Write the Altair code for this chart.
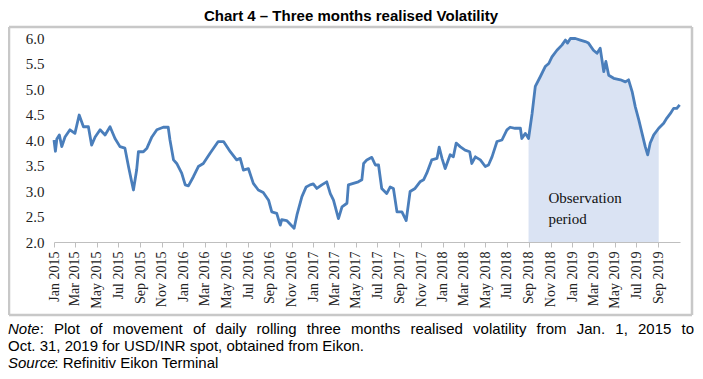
import altair as alt
import pandas as pd

dates = [
    "2015-01-01", "2015-01-05", "2015-01-09", "2015-01-16", "2015-01-23", "2015-02-01", "2015-02-15",
    "2015-03-01", "2015-03-13", "2015-03-25", "2015-04-08", "2015-04-17", "2015-04-27", "2015-05-11",
    "2015-05-25", "2015-06-08", "2015-06-22", "2015-07-06", "2015-07-20", "2015-07-30", "2015-08-08",
    "2015-08-13", "2015-08-22", "2015-08-27", "2015-09-10", "2015-09-20", "2015-10-04", "2015-10-18",
    "2015-11-05", "2015-11-19", "2015-11-24", "2015-12-04", "2015-12-13", "2015-12-27", "2016-01-06",
    "2016-01-15", "2016-01-29", "2016-02-12", "2016-02-26", "2016-03-16", "2016-04-08", "2016-04-23",
    "2016-05-12", "2016-05-30", "2016-06-09", "2016-06-18", "2016-07-02", "2016-07-16", "2016-07-30",
    "2016-08-13", "2016-08-28", "2016-09-06", "2016-09-20", "2016-09-30", "2016-10-04", "2016-10-18",
    "2016-11-08", "2016-11-16", "2016-11-30", "2016-12-12", "2016-12-23", "2017-01-01", "2017-01-11",
    "2017-01-25", "2017-02-08", "2017-02-18", "2017-02-27", "2017-03-13", "2017-03-23", "2017-04-06",
    "2017-04-10", "2017-04-24", "2017-05-08", "2017-05-18", "2017-05-23", "2017-06-01", "2017-06-15",
    "2017-06-25", "2017-07-04", "2017-07-13", "2017-07-27", "2017-08-06", "2017-08-15", "2017-08-25",
    "2017-09-08", "2017-09-20", "2017-10-01", "2017-10-15", "2017-10-29", "2017-11-08", "2017-11-17",
    "2017-12-01", "2017-12-16", "2017-12-22", "2017-12-30", "2018-01-08", "2018-01-22", "2018-01-31",
    "2018-02-08", "2018-02-19", "2018-03-05", "2018-03-18", "2018-03-24", "2018-04-03", "2018-04-17",
    "2018-05-01", "2018-05-10", "2018-05-20", "2018-06-03", "2018-06-17", "2018-07-01", "2018-07-10",
    "2018-07-24", "2018-08-08", "2018-08-12", "2018-08-22", "2018-08-31", "2018-09-10", "2018-09-19",
    "2018-10-03", "2018-10-17", "2018-10-27", "2018-11-05", "2018-11-19", "2018-12-03", "2018-12-13",
    "2018-12-19", "2018-12-27", "2019-01-10", "2019-01-24", "2019-02-07", "2019-02-16", "2019-03-02",
    "2019-03-12", "2019-03-21", "2019-03-31", "2019-04-06", "2019-04-14", "2019-04-28", "2019-05-17",
    "2019-05-31", "2019-06-09", "2019-06-19", "2019-06-28", "2019-07-08", "2019-07-17", "2019-07-26",
    "2019-08-02", "2019-08-09", "2019-08-19", "2019-09-02", "2019-09-16", "2019-09-25", "2019-10-05",
    "2019-10-14", "2019-10-23", "2019-10-31",
]
volatility = [
    4.00, 3.78, 4.02, 4.10, 3.87, 4.06, 4.20,
    4.13, 4.49, 4.26, 4.26, 3.90, 4.06, 4.20,
    4.10, 4.26, 4.03, 3.87, 3.84, 3.48, 3.18,
    3.02, 3.41, 3.77, 3.77, 3.84, 4.06, 4.20,
    4.25, 4.25, 4.00, 3.61, 3.54, 3.35, 3.12,
    3.10, 3.28, 3.48, 3.54, 3.74, 3.97, 3.97,
    3.77, 3.61, 3.64, 3.41, 3.44, 3.15, 3.02,
    2.97, 2.82, 2.59, 2.56, 2.33, 2.44, 2.42,
    2.27, 2.53, 2.89, 3.08, 3.12, 3.14, 3.05,
    3.12, 3.18, 2.95, 2.82, 2.46, 2.69, 2.76,
    3.12, 3.15, 3.18, 3.22, 3.54, 3.61, 3.66,
    3.51, 3.51, 3.05, 2.95, 3.08, 3.05, 2.59,
    2.59, 2.42, 2.99, 3.05, 3.18, 3.22, 3.35,
    3.61, 3.64, 3.86, 3.64, 3.44, 3.71, 3.67,
    3.94, 3.87, 3.80, 3.77, 3.54, 3.67, 3.61,
    3.48, 3.51, 3.67, 3.97, 4.00, 4.20, 4.25,
    4.23, 4.23, 4.03, 4.13, 4.03, 4.52, 5.05,
    5.24, 5.44, 5.50, 5.63, 5.76, 5.86, 5.96,
    5.90, 5.99, 5.99, 5.96, 5.93, 5.90, 5.76,
    5.70, 5.80, 5.34, 5.54, 5.27, 5.21, 5.18,
    5.14, 5.18, 4.95, 4.65, 4.39, 4.13, 3.87,
    3.71, 3.94, 4.10, 4.23, 4.33, 4.43, 4.52,
    4.62, 4.62, 4.69,
]
obs_start = "2018-08-31"
obs_end = "2019-09-02"
obs_label = "Observation\nperiod"
obs_label_date = "2018-10-26"
obs_label_value = 3.0
y_ticks = [2.0, 2.5, 3.0, 3.5, 4.0, 4.5, 5.0, 5.5, 6.0]
tick_years_months = [(y, m) for y in range(2015, 2020) for m in (1, 3, 5, 7, 9, 11)
                     if not (y == 2019 and m == 11)]

title_text = "Chart 4 \u2013 Three months realised Volatility"
note_lead = "Note"
note_line1 = ": Plot of movement of daily rolling three months realised volatility from Jan. 1, 2015 to"
note_line2 = "Oct. 31, 2019 for USD/INR spot, obtained from Eikon."
source_lead = "Source"
source_text = ": Refinitiv Eikon Terminal"

df = pd.DataFrame({"date": dates, "vol": volatility})
obs = df[(df["date"] >= obs_start) & (df["date"] <= obs_end)]

W, H = 626, 204
serif = "Liberation Serif"
sans = "Liberation Sans"

x_enc = alt.X(
    "date:T",
    scale=alt.Scale(
        type="utc",
        domain=[alt.DateTime(year=2015, month=1, date=1, utc=True),
                alt.DateTime(year=2019, month=11, date=1, utc=True)],
    ),
    axis=alt.Axis(
        values=[alt.DateTime(year=y, month=m, date=1, utc=True) for y, m in tick_years_months],
        format="%b %Y", labelAngle=-90, labelFont=serif, labelFontSize=14,
        labelColor="#222222", domainColor="#bfbfbf", tickColor="#bfbfbf",
        tickSize=5, labelPadding=4, grid=False, labelOverlap=False,
    ),
    title=None,
)
y_enc = alt.Y(
    "vol:Q",
    scale=alt.Scale(domain=[2, 6], zero=False, nice=False),
    axis=alt.Axis(values=y_ticks, format=".1f", domain=False, ticks=False, grid=False,
                  labelOverlap=False, labelFont=serif, labelFontSize=15,
                  labelColor="#222222", labelPadding=10),
    title=None,
)

area = alt.Chart(obs).mark_area(color="#dae3f3").encode(x=x_enc, y=y_enc, y2=alt.datum(2.0))
line = alt.Chart(df).mark_line(color="#4a7ebb", strokeWidth=2.8, strokeJoin="round").encode(x=x_enc, y=y_enc)

label_df = pd.DataFrame({"date": [obs_label_date], "vol": [obs_label_value], "t": [obs_label]})
label = alt.Chart(label_df).mark_text(
    font=serif, fontSize=15, align="left", baseline="top", lineBreak="\n", lineHeight=21, color="#111111"
).encode(x=x_enc, y=y_enc, text="t:N")

BL, BR, BT, BB = -45, 638, -11, 277
border_color = "#c8c8c8"
border_df = pd.DataFrame({
    "x1": [BL, BL, BL, BR], "x2": [BR, BR, BL, BR],
    "y1": [BT, BB, BT, BT], "y2": [BT, BB, BB, BB],
})
border = alt.Chart(border_df).mark_rule(color=border_color, strokeWidth=2.5).encode(
    x=alt.X("x1:Q", scale=None, axis=None),
    x2="x2:Q",
    y=alt.Y("y1:Q", scale=None, axis=None),
    y2="y2:Q",
)


def txt(s, x, y, size=15, weight="normal", style="normal", align="left", font=sans):
    return alt.Chart(pd.DataFrame({"t": [s]})).mark_text(
        font=font, fontSize=size, fontWeight=weight, fontStyle=style, align=align,
        baseline="middle", color="#000000"
    ).encode(text="t:N", x=alt.value(x), y=alt.value(y))


# Arial / Liberation Sans advance widths (per 1000 em), used to justify the first note line
AW = {" ": 278, ",": 278, ".": 278, ":": 278, "/": 278, "J": 500, "N": 722, "P": 667,
      "a": 556, "b": 556, "c": 500, "d": 556, "e": 556, "f": 278, "g": 556, "h": 556,
      "i": 222, "l": 222, "m": 833, "n": 556, "o": 556, "r": 333, "s": 500, "t": 278,
      "v": 500, "y": 500}


def tw(s, size):
    return sum(AW.get(c, 556) for c in s) * size / 1000.0


FS = 15
LEFT, RIGHT = -46, 640
words = (note_lead + note_line1).split(" ")
widths = [tw(w_, FS) for w_ in words]
gap = (RIGHT - LEFT - sum(widths)) / (len(words) - 1)
note_layers = []
xpos = LEFT
for i, w_ in enumerate(words):
    if i == 0:
        note_layers.append(txt(note_lead, xpos, 291, style="italic"))
        note_layers.append(txt(w_[len(note_lead):], xpos + tw(note_lead, FS), 291))
    else:
        note_layers.append(txt(w_, xpos, 291))
    xpos += widths[i] + gap

title = txt(title_text, 297, -22, size=15, weight="bold", align="center")
n2 = txt(note_line2, -46, 308)
s1a = txt(source_lead, -46, 325, style="italic")
s1b = txt(source_text, -46 + tw("Source", FS) + 0.5, 325)

main = alt.layer(area, line, label)
decor = alt.layer(border, title, *note_layers, n2, s1a, s1b)

chart = alt.layer(main, decor).resolve_scale(x="independent", y="independent").properties(
    width=W, height=H,
    padding={"left": 46, "top": 30, "right": 15, "bottom": 129},
    autosize=alt.AutoSizeParams(type="none"),
    background="white",
).configure_view(stroke=None)

chart.save("out.html", embed_options={"renderer": "svg", "actions": False})
